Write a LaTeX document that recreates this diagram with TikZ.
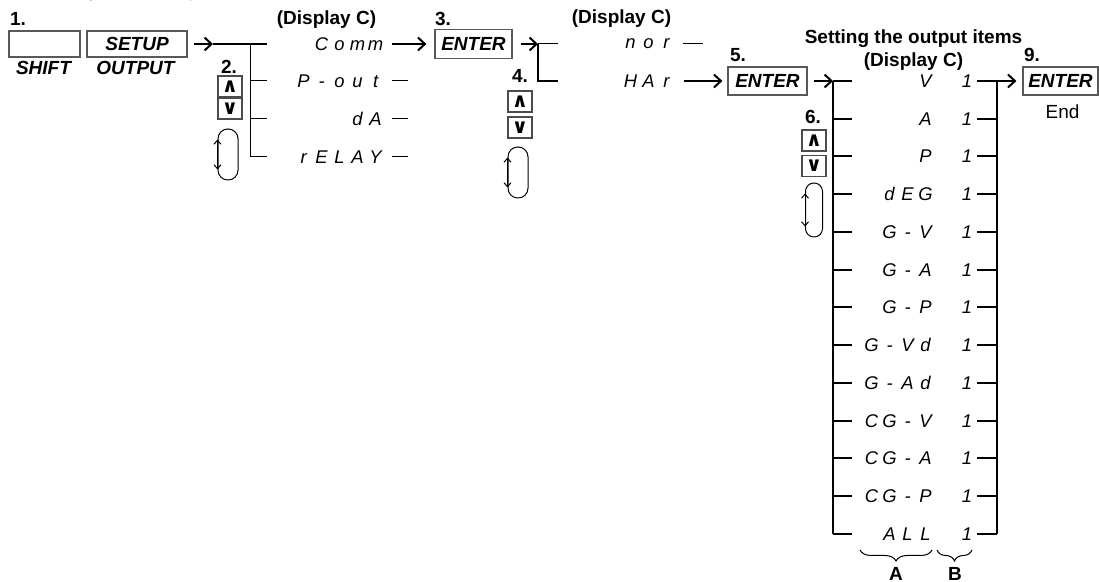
\documentclass[tikz,border=0pt]{standalone}
\usepackage{fontspec}
\setmainfont{Liberation Sans}
\newfontfamily\symfont{DejaVu Sans}
\usetikzlibrary{arrows.meta,decorations.pathreplacing}

\newcommand\segcell[1]{\makebox[9pt]{#1}}
\def\segloop#1{\ifx\relax#1\else\segcell{#1}\expandafter\segloop\fi}
\newcommand\segtext[1]{\segloop#1\relax}

\begin{document}
\begin{tikzpicture}[x=0.5pt,y=-0.5pt,
  >={Straight Barb[length=3.5pt,width=6.5pt]},
  thickln/.style={line width=1pt},
  thinln/.style={line width=0.5pt},
  keybox/.style={draw=black!65,line width=0.6pt,inner sep=0pt,font=\bfseries\itshape\fontsize{9.5}{11}\selectfont},
  keylbl/.style={inner sep=0pt,font=\bfseries\itshape\fontsize{9.5}{11}\selectfont},
  keysm/.style={draw=black!70,line width=0.6pt,inner sep=0pt,minimum width=12pt,minimum height=10.5pt,font=\symfont\bfseries\fontsize{10}{10}\selectfont},
  knob/.style={draw,line width=0.5pt,inner sep=0pt,rounded corners=4.9pt},
  knobarr/.style={line width=0.5pt,arrows={Straight Barb[length=2pt,width=3.5pt]-Straight Barb[length=2pt,width=3.5pt]}},
  steplbl/.style={inner sep=0pt,font=\bfseries\fontsize{9.5}{11}\selectfont},
  segtxt/.style={inner sep=0pt,font=\itshape\fontsize{9.2}{10}\selectfont}]
\useasboundingbox (0,0) rectangle (1099,582);

\node[anchor=base west,inner sep=0pt,font=\bfseries\fontsize{12.3}{14}\selectfont] (head) at (15,-4) {Setting the output};

% step 1
\node[steplbl] (n1) at (18,19) {1.};
\node[keybox,minimum width=35.5pt,minimum height=13pt] (shift) at (44.5,44) {};
\node[keybox,minimum width=50pt,minimum height=13pt] (setup) at (137,44) {SETUP};
\node[keylbl] (shiftlbl) at (43.5,68) {SHIFT};
\node[keylbl] (outlbl) at (135.5,68) {OUTPUT};

% step 2
\node[steplbl] (dispa) at (326.5,20) {(Display C)};
\coordinate (a2) at (213,44);
\coordinate (m2) at (250,44);
\draw[thickln,->] ([xshift=3pt]setup.east) -- (a2);
\draw[thickln] (a2) -- (267,44);
\foreach \y/\txt [count=\i] in {44/Comm,81/P-out,119/dA,157/rELAY} {
  \node[segtxt,anchor=east] (m2-\i) at (385,\y) {\expandafter\segtext\expandafter{\txt}};
}
\draw[thinln] (m2) |- (267,157);
\foreach \y in {81,119} \draw[thinln] (250,\y) -- (267,\y);
\foreach \i in {2,3,4} \draw[thinln] ([xshift=3.5pt]m2-\i.east) -- ++(16,0);
\node[steplbl] (n2) at (229,67) {2.};
\node[keysm] (up2) at (230,86.5) {∧};
\node[keysm] (dn2) at (230,108.5) {∨};
\node[knob,minimum width=10pt,minimum height=25.5pt] (knob2) at (228,154.5) {};
\draw[knobarr] ([yshift=-5.5pt]knob2.north west) -- ([yshift=5.5pt]knob2.south west);

% step 3 and 4
\node[steplbl] (n3) at (443,19) {3.};
\node[keybox,minimum width=38.5pt,minimum height=14.5pt] (ent1) at (473.5,44) {ENTER};
\draw[thickln,->] ([xshift=3.5pt]m2-1.east) -- ([xshift=-4pt]ent1.west);
\coordinate (b3) at (538,44);
\draw[thickln,->] ([xshift=4pt]ent1.east) -- (b3);
\draw[thinln] (b3) -- (558,44);
\draw[thickln] (b3) |- (558,81);
\node[steplbl] (dispb) at (621.5,19) {(Display C)};
\node[segtxt,anchor=west] (nor) at (621,44) {\segtext{nor}};
\node[segtxt,anchor=west] (har) at (621,81) {\segtext{HAr}};
\draw[thinln] ([xshift=3.5pt]nor.east) -- ++(20,0);
\node[steplbl] (n4) at (520,76) {4.};
\node[keysm] (up4) at (520,101.5) {∧};
\node[keysm] (dn4) at (520,127.5) {∨};
\node[knob,minimum width=10pt,minimum height=25.5pt] (knob4) at (518,172.5) {};
\draw[knobarr] ([yshift=-5.5pt]knob4.north west) -- ([yshift=5.5pt]knob4.south west);

% step 5 to 9
\node[steplbl] (n5) at (738,55) {5.};
\node[keybox,minimum width=39.5pt,minimum height=14pt] (ent2) at (767.5,81) {ENTER};
\draw[thickln,->] ([xshift=4pt]har.east) -- ([xshift=-2.5pt]ent2.west);
\node[steplbl] (title) at (913.5,38.5) {Setting the output items};
\node[steplbl] (dispc) at (913.5,62) {(Display C)};
\coordinate (l5top) at (833,81);
\coordinate (l5bot) at (833,534);
\coordinate (r5top) at (997,81);
\coordinate (r5bot) at (997,534);
\draw[thickln,->] ([xshift=3pt]ent2.east) -- (l5top);
\draw[thickln] (l5top) -- (l5bot);
\draw[thickln] (r5top) -- (r5bot);
\foreach \txt [count=\i from 0] in {V,A,P,dEG,G-V,G-A,G-P,G-Vd,G-Ad,CG-V,CG-A,CG-P,ALL} {
  \pgfmathsetmacro\yy{81+37.75*\i}
  \node[segtxt,anchor=east] (it-\i) at (935,\yy) {\expandafter\segtext\expandafter{\txt}};
  \node[segtxt] (one-\i) at (967,\yy) {1};
  \draw[thickln] (833,\yy) -- (852,\yy);
  \draw[thickln] (977,\yy) -- (997,\yy);
}
\node[steplbl] (n9) at (1032,55) {9.};
\node[keybox,minimum width=37.5pt,minimum height=14pt] (ent3) at (1060.5,81) {ENTER};
\draw[thickln,->] (r5top) -- ([xshift=-3pt]ent3.west);
\node[inner sep=0pt,font=\fontsize{9.5}{11}\selectfont] (endlbl) at (1062.5,111.5) {End};
\node[steplbl] (n6) at (813,116.5) {6.};
\node[keysm] (up6) at (814,140.5) {∧};
\node[keysm] (dn6) at (814,166) {∨};
\node[knob,minimum width=8.5pt,minimum height=27pt,rounded corners=4.2pt] (knob6) at (814,210) {};
\draw[knobarr] ([yshift=-5.5pt]knob6.north west) -- ([yshift=5.5pt]knob6.south west);

\draw[thinln,decorate,decoration={brace,mirror,amplitude=5.5pt}] (860,550) -- (932,550);
\draw[thinln,decorate,decoration={brace,mirror,amplitude=5.5pt}] (937,550) -- (972,550);
\node[steplbl] (lblA) at (896,574) {A};
\node[steplbl] (lblB) at (955,574) {B};
\end{tikzpicture}
\end{document}
